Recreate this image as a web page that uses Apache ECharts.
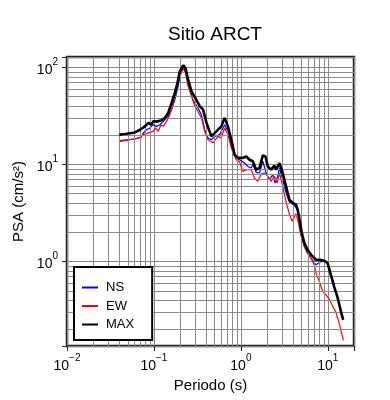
<!DOCTYPE html>
<html>
<head>
<meta charset="utf-8">
<title>Sitio ARCT</title>
<script src="https://cdn.jsdelivr.net/npm/echarts@6/dist/echarts.min.js"></script>
<style>
  html, body { margin: 0; padding: 0; background: #fff; }
  #chart { width: 390px; height: 400px; }
</style>
</head>
<body>
<div id="chart"></div>
<script>
// periodo (s) y PSA (cm/s2) de cada componente
const nsPeriod = [0.04, 0.0605, 0.071, 0.0753, 0.0824, 0.090, 0.0982, 0.107, 0.1172, 0.128, 0.146, 0.1596, 0.174, 0.1897, 0.2037, 0.2208, 0.2371, 0.2582, 0.2818, 0.2951, 0.3214, 0.3516, 0.3837, 0.4188, 0.458, 0.500, 0.570, 0.650, 0.7096, 0.776, 0.847, 0.966, 1.102, 1.202, 1.315, 1.372, 1.50, 1.637, 1.786, 1.953, 2.133, 2.326, 2.477, 2.654, 2.774, 3.028, 3.311, 3.61, 3.94, 4.31, 4.5, 4.92, 5.37, 5.85, 6.4, 7.31, 7.62, 8.34, 9.1, 9.93, 10.84, 11.84, 12.91, 14.12, 15.0];
const nsPSA = [17.3, 18.3, 19.0, 21.1, 22.8, 23.8, 25.7, 24.7, 25.7, 27.8, 31.3, 36.7, 46.6, 63.8, 87.7, 101, 81.0, 59.0, 46, 44.7, 38.2, 32.6, 22.8, 18.8, 18.0, 19.5, 20.3, 25.7, 21.9, 16.0, 12.1, 11.2, 10.35, 9.55, 9.2, 10.0, 8.3, 8.17, 10.8, 8.17, 6.97, 7.85, 6.44, 7.54, 9.2, 6.97, 5.08, 4.1, 3.9, 3.6, 3.3, 1.9, 1.43, 1.22, 1.087, 0.927, 0.889, 1.0, 1.02, 0.966, 0.73, 0.55, 0.43, 0.31, 0.25];

const ewPeriod = [0.04, 0.0605, 0.0692, 0.0753, 0.0824, 0.090, 0.0982, 0.1045, 0.112, 0.1203, 0.128, 0.1396, 0.1524, 0.1663, 0.182, 0.1986, 0.2168, 0.2307, 0.247, 0.2704, 0.2951, 0.3214, 0.3516, 0.3837, 0.4188, 0.4775, 0.5457, 0.5957, 0.650, 0.7096, 0.776, 0.885, 0.966, 1.054, 1.153, 1.315, 1.435, 1.566, 1.713, 1.867, 2.038, 2.229, 2.432, 2.612, 2.774, 3.028, 3.311, 3.61, 3.88, 4.05, 4.31, 4.5, 4.92, 5.37, 5.85, 6.4, 6.98, 7.31, 7.98, 8.69, 9.51, 10.38, 11.32, 12.38, 13.51, 15.1];
const ewPSA = [17.6, 18.4, 19.0, 20.3, 20.8, 21.4, 21.9, 23.8, 21.9, 25.7, 24.7, 27.8, 32.6, 43.1, 59.0, 81.0, 98.8, 87.7, 63.8, 50.4, 40, 35.2, 30.2, 21.9, 18.0, 16.7, 19.5, 18.8, 23.8, 20.3, 14.8, 11.2, 10.6, 8.49, 8.84, 8.84, 7.26, 6.70, 8.0, 8.17, 7.54, 6.70, 7.54, 6.44, 8.17, 5.94, 4.1, 3.1, 2.6, 2.8, 3.1, 2.7, 1.85, 1.43, 1.22, 1.087, 0.927, 0.76, 0.624, 0.50, 0.454, 0.41, 0.35, 0.30, 0.232, 0.154];

const maxPeriod = [0.04, 0.0466, 0.0605, 0.0692, 0.0789, 0.0861, 0.0925, 0.0982, 0.1026, 0.110, 0.1224, 0.1337, 0.146, 0.1596, 0.174, 0.1866, 0.1986, 0.2168, 0.2307, 0.247, 0.2704, 0.2951, 0.3214, 0.3366, 0.3675, 0.402, 0.458, 0.5224, 0.5957, 0.650, 0.7096, 0.776, 0.847, 0.925, 1.054, 1.153, 1.259, 1.372, 1.50, 1.637, 1.786, 1.919, 2.038, 2.229, 2.432, 2.543, 2.774, 3.028, 3.311, 3.61, 3.94, 4.31, 4.50, 4.70, 5.0, 5.37, 5.85, 6.4, 7.31, 7.62, 8.34, 9.1, 9.93, 10.84, 11.84, 12.91, 14.12, 15.0];
const maxPSA = [20.3, 20.6, 21.4, 22.8, 24.7, 26.8, 25.7, 27.8, 29.0, 27.8, 28.5, 30.2, 34.0, 43.1, 54.6, 69.2, 91.2, 105, 98.8, 74.9, 56.7, 49.5, 43.1, 40, 36.7, 26.8, 19.5, 21.9, 24.7, 30.2, 24.7, 18.0, 12.6, 11.7, 11.7, 12.1, 11.2, 10.8, 8.84, 9.2, 12.4, 12.1, 9.55, 8.84, 9.72, 8.84, 10.35, 8.17, 5.94, 4.34, 4.01, 3.85, 3.42, 2.8, 2.0, 1.55, 1.32, 1.18, 1.04, 1.0, 1.04, 1.02, 0.966, 0.73, 0.55, 0.43, 0.31, 0.251];

// lineas de la reticula (2..9 de cada decada)
const xMinor = [0.02, 0.03, 0.04, 0.05, 0.06, 0.07, 0.08, 0.09, 0.2, 0.3, 0.4, 0.5, 0.6, 0.7, 0.8, 0.9, 2, 3, 4, 5, 6, 7, 8, 9];
const yMinor = [0.2, 0.3, 0.4, 0.5, 0.6, 0.7, 0.8, 0.9, 2, 3, 4, 5, 6, 7, 8, 9, 20, 30, 40, 50, 60, 70, 80, 90];

const FONT = '"Liberation Sans", Arial, Helvetica, sans-serif';

const pairs = (xs, ys) => xs.map((x, i) => [x, ys[i]]);

// etiqueta 10^n con exponente
const powLabel = (v) => {
  const lg = Math.log10(v);
  const e = Math.round(lg);
  if (Math.abs(lg - e) > 1e-6) return '';
  const exp = e < 0 ? '\u2212' + (-e) : String(e);
  return '{b|10}{e|' + exp + '}';
};

const labelRich = {
  b: { fontSize: 14, fontFamily: FONT, color: '#000', verticalAlign: 'bottom', lineHeight: 20 },
  e: { fontSize: 10, fontFamily: FONT, color: '#000', verticalAlign: 'top', lineHeight: 20 },
};

const chart = echarts.init(document.getElementById('chart'));

chart.setOption({
  animation: false,
  backgroundColor: '#fff',
  title: {
    text: 'Sitio ARCT',
    left: 210,
    top: 20,
    textAlign: 'center',
    textStyle: { fontFamily: FONT, fontSize: 19, fontWeight: 'normal', color: '#000' },
  },
  grid: {
    left: 67,
    right: 36,
    top: 57,
    bottom: 54,
    show: true,
    borderColor: '#222',
    borderWidth: 2.5,
    outerBoundsMode: 'none',
  },
  legend: {
    orient: 'vertical',
    left: 74,
    top: 267,
    z: 20,
    padding: [14, 18, 9, 8],
    itemWidth: 16,
    itemHeight: 2,
    itemGap: 5.5,
    backgroundColor: '#fff',
    borderColor: '#000',
    borderWidth: 2,
    icon: 'rect',
    textStyle: { fontFamily: FONT, fontSize: 13, color: '#000', padding: [0, 0, 0, 3] },
    data: ['NS', 'EW', 'MAX'],
  },
  xAxis: {
    type: 'log',
    logBase: 10,
    min: 0.01,
    max: 20,
    interval: 1,
    name: 'Periodo (s)',
    nameLocation: 'middle',
    nameGap: 26,
    nameTextStyle: { fontFamily: FONT, fontSize: 15, color: '#000' },
    axisLine: { show: false },
    axisTick: { show: true, inside: false, length: 5, lineStyle: { color: '#222' } },
    axisLabel: { margin: 7, formatter: powLabel, rich: labelRich },
    splitLine: { show: true, lineStyle: { color: '#8a8a8a', width: 1 } },
  },
  yAxis: {
    type: 'log',
    logBase: 10,
    min: 0.135,
    max: 128,
    name: 'PSA (cm/s\u00b2)',
    nameLocation: 'middle',
    nameGap: 35,
    nameTextStyle: { fontFamily: FONT, fontSize: 15, color: '#000' },
    axisLine: { show: false },
    axisTick: { show: true, inside: false, length: 5, lineStyle: { color: '#222' } },
    axisLabel: { margin: 9, formatter: powLabel, rich: labelRich },
    splitLine: { show: true, lineStyle: { color: '#8a8a8a', width: 1 } },
  },
  series: [
    {
      name: 'grid',
      type: 'line',
      data: [],
      silent: true,
      z: 1,
      markLine: {
        silent: true,
        symbol: 'none',
        label: { show: false },
        lineStyle: { color: '#8a8a8a', width: 1, type: 'solid' },
        data: [
          ...xMinor.map((v) => ({ xAxis: v })),
          ...yMinor.map((v) => ({ yAxis: v })),
        ],
      },
    },
    {
      name: 'NS',
      type: 'line',
      data: pairs(nsPeriod, nsPSA),
      showSymbol: false,
      z: 3,
      lineStyle: { color: '#0000ff', width: 1.2 },
      itemStyle: { color: '#0000ff' },
    },
    {
      name: 'EW',
      type: 'line',
      data: pairs(ewPeriod, ewPSA),
      showSymbol: false,
      z: 4,
      lineStyle: { color: '#ff0000', width: 1.2 },
      itemStyle: { color: '#ff0000' },
    },
    {
      name: 'MAX',
      type: 'line',
      data: pairs(maxPeriod, maxPSA),
      showSymbol: false,
      z: 5,
      lineStyle: { color: '#000', width: 2.6 },
      itemStyle: { color: '#000' },
    },
  ],
});

window.addEventListener('resize', () => chart.resize());
</script>
</body>
</html>
